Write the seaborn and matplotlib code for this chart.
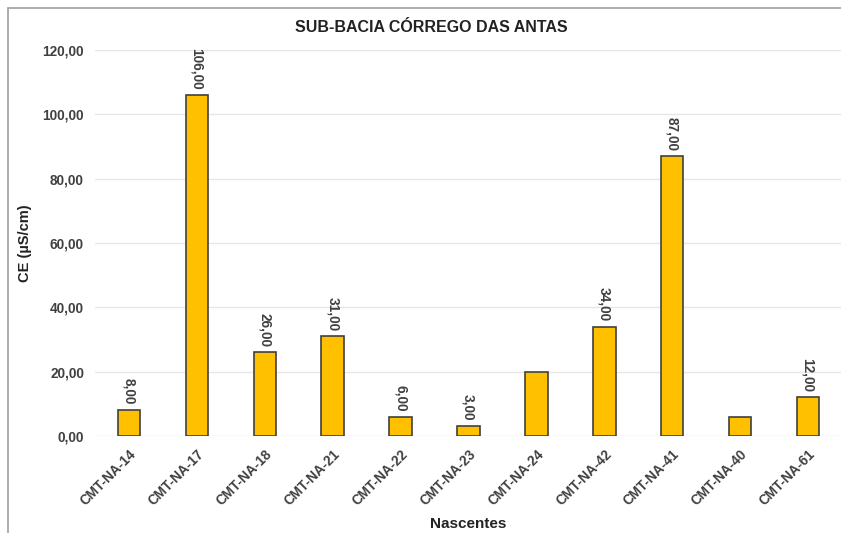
import matplotlib
matplotlib.use("Agg")
import matplotlib.pyplot as plt
import matplotlib.patches as mpatches
from matplotlib.ticker import FuncFormatter
import seaborn as sns
import pandas as pd

nascentes = ["CMT-NA-14", "CMT-NA-17", "CMT-NA-18", "CMT-NA-21", "CMT-NA-22", "CMT-NA-23",
             "CMT-NA-24", "CMT-NA-42", "CMT-NA-41", "CMT-NA-40", "CMT-NA-61"]
ce = [8, 106, 26, 31, 6, 3, 20, 34, 87, 6, 12]
# the original only labels some bars
rotulos = ["8,00", "106,00", "26,00", "31,00", "6,00", "3,00", "", "34,00", "87,00", "", "12,00"]

df = pd.DataFrame({"Nascentes": nascentes, "CE": ce})

sns.set_style("white")
plt.rcParams["font.family"] = ["Liberation Sans", "DejaVu Sans"]

fig = plt.figure(figsize=(8.41, 5.33), dpi=100)
ax = fig.add_axes([95 / 841, 1 - 436 / 533, (842 - 95) / 841, (436 - 50) / 533])

sns.barplot(data=df, x="Nascentes", y="CE", color="#FFC000", edgecolor="#404040",
            linewidth=1.2, width=0.33, saturation=1, ax=ax)

ax.bar_label(ax.containers[0], labels=rotulos, rotation=-90, padding=4,
             fontsize=9.8, fontweight="bold", color="#404040")

ax.set_ylim(0, 120)
ax.set_xlim(-0.5, 10.5)
ax.set_yticks(range(0, 121, 20))
ax.yaxis.set_major_formatter(FuncFormatter(lambda v, p: f"{v:.2f}".replace(".", ",")))
ax.grid(axis="y", color="#E6E6E6", linewidth=1)
ax.set_axisbelow(True)
for s in ax.spines.values():
    s.set_visible(False)
ax.tick_params(length=0, pad=8)
plt.setp(ax.get_yticklabels(), fontsize=9.8, fontweight="bold", color="#404040")
plt.setp(ax.get_xticklabels(), fontsize=9.8, fontweight="bold", color="#404040",
         rotation=45, ha="right", rotation_mode="anchor")

ax.set_xlabel("Nascentes", fontsize=11, fontweight="bold", color="#222222")
ax.xaxis.set_label_coords((468 - 95) / (842 - 95), -(517 - 436) / (436 - 50))
ax.set_ylabel("CE (µS/cm)", fontsize=10.5, fontweight="bold", color="#222222")
ax.yaxis.set_label_coords(-(95 - 32) / (842 - 95), 0.5)

fig.text(431 / 841, 1 - 28 / 533, "SUB-BACIA CÓRREGO DAS ANTAS", ha="center", va="center",
         fontsize=11.5, fontweight="bold", color="#222222")

# moldura do grafico
fig.patches.append(mpatches.Rectangle((7.5 / 841, -0.5), 2, 1 - 8 / 533 + 0.5,
                                      transform=fig.transFigure, fill=False,
                                      edgecolor="#A0A0A0", linewidth=1.2))

fig.savefig("out.png", dpi=100)
